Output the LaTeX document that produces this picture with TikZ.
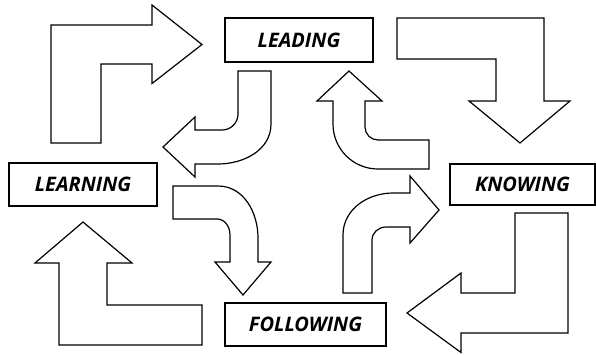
\documentclass[tikz,border=0pt]{standalone}
\usepackage{fontspec}
\setsansfont{Open Sans}
\usepackage{tikz}
\usepackage{xcolor}
\tikzset{
    word-box/.style = {draw=black, fill=white, line width=2pt, rectangle, inner sep=0pt, font=\sffamily\bfseries\itshape\fontsize{20}{20}\selectfont},
    block-arrow/.style = {draw=black, fill=white, line width=1.2pt, line join=miter},
}

\begin{document}
\begin{tikzpicture}[x=1pt, y=-1pt]
\useasboundingbox (0,0) rectangle (596,354);

\node [word-box, minimum width=148pt, minimum height=44pt] (leading) at (299,40) {LEADING};
\node [word-box, minimum width=148pt, minimum height=43pt] (learning) at (83,184.5) {LEARNING};
\node [word-box, minimum width=145pt, minimum height=41pt] (knowing) at (522.5,184.5) {KNOWING};
\node [word-box, minimum width=161pt, minimum height=43pt] (following) at (305.5,324.5) {FOLLOWING};

% outer ring
\draw [block-arrow] (51,143) -- (51,25) -- (152,25) -- (152,5) -- (202,44.5) -- (152,83.5) -- (152,64) -- (101,64) -- (101,143) -- cycle;
\draw [block-arrow] (397,18) -- (544,18) -- (544,101) -- (570,101) -- (520,143) -- (469,101) -- (496,101) -- (496,59) -- (397,59) -- cycle;
\draw [block-arrow] (515,213) -- (568,213) -- (568,333) -- (461,333) -- (461,352.5) -- (407,313) -- (461,273) -- (461,293) -- (515,293) -- cycle;
\draw [block-arrow] (83,222) -- (132,263) -- (107,263) -- (107,305) -- (202,305) -- (202,345) -- (59,345) -- (59,263) -- (35,263) -- cycle;

% inner ring
\draw [block-arrow] (238,71) -- (271,71) -- (271,124) to[out=-90,in=0] (218,164) -- (195,164) -- (195,177) -- (163,147) -- (195,117) -- (195,130) -- (222,130) to[out=0,in=-90] (238,114) -- cycle;
\draw [block-arrow] (429,140) -- (429,169) -- (378,169) to[out=180,in=-90] (333,124) -- (333,101) -- (317,101) -- (349,71) -- (382,101) -- (365,101) -- (365,127) to[out=-90,in=180] (378,140) -- cycle;
\draw [block-arrow] (173,186) -- (218,186) to[out=0,in=90] (258,238) -- (258,262) -- (271,262) -- (243,295) -- (215,262) -- (230,262) -- (230,235) to[out=90,in=0] (217,219) -- (173,219) -- cycle;
\draw [block-arrow] (343,293) -- (372,293) -- (372,240) to[out=90,in=180] (386,227) -- (410,227) -- (410,243) -- (439,210) -- (410,176) -- (410,193) -- (393,193) to[out=180,in=90] (343,235) -- cycle;
\end{tikzpicture}
\end{document}
